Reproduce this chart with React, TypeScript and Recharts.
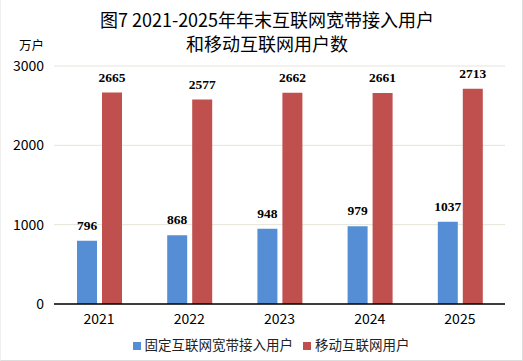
import React from 'react';
import {
    BarChart,
    Bar,
    CartesianGrid,
    LabelList,
    Legend,
    XAxis,
    YAxis,
} from 'recharts';

const years = ['2021', '2022', '2023', '2024', '2025'];
const broadband = [796, 868, 948, 979, 1037];
const mobile = [2665, 2577, 2662, 2661, 2713];
const yTicks = [0, 1000, 2000, 3000];

const data = years.map((year, i) => ({
    year,
    固定互联网宽带接入用户: broadband[i],
    移动互联网用户: mobile[i],
}));

const cjk = '"Noto Sans CJK SC", "Noto Sans", sans-serif';

const labelStyle = {
    fill: '#000',
    fontSize: 13.5,
    fontWeight: 'bold',
    fontFamily: '"Liberation Serif", serif',
};

const App = () => {
    return (
        <div
            style={{
                position: 'absolute',
                left: 0,
                top: 0,
                width: 523,
                height: 361,
                background: '#fff',
                boxSizing: 'border-box',
                borderRight: '1px solid #DCDCDC',
                borderBottom: '1px solid #DCDCDC',
                borderLeft: '1px solid #EEEEEE',
                fontFamily: cjk,
            }}
        >
            <div
                style={{
                    position: 'absolute',
                    left: 0,
                    width: 532,
                    top: 7,
                    textAlign: 'center',
                    fontSize: 18,
                    lineHeight: '24px',
                    color: '#000',
                }}
            >
                图7 2021-2025年年末互联网宽带接入用户
                <br />
                和移动互联网用户数
            </div>
            <div
                style={{
                    position: 'absolute',
                    left: 18,
                    top: 37,
                    fontSize: 12.5,
                    lineHeight: '16px',
                    color: '#000',
                }}
            >
                万户
            </div>

            <BarChart
                width={523}
                height={361}
                data={data}
                margin={{ top: 66, right: 19, bottom: 27, left: 0 }}
                barSize={20}
                barGap={5}
            >
                <CartesianGrid vertical={false} stroke="#E6E3D7" />

                <YAxis
                    width={53}
                    domain={[0, 3000]}
                    ticks={yTicks}
                    axisLine={false}
                    tickLine={false}
                    tickMargin={4}
                    tick={{ fill: '#000', fontSize: 14, fontFamily: cjk }}
                />

                <XAxis
                    dataKey="year"
                    height={30}
                    tickLine={false}
                    axisLine={{ stroke: '#000', strokeWidth: 1.5 }}
                    tickMargin={4}
                    tick={{ fill: '#000', fontSize: 14, fontFamily: cjk }}
                />

                <Legend
                    layout="horizontal"
                    verticalAlign="middle"
                    align="center"
                    iconType="square"
                    iconSize={8}
                    wrapperStyle={{ top: 334, left: 10, width: 530, fontSize: 13.5, fontFamily: cjk }}
                    formatter={(value) => <span style={{ color: '#222' }}>{value}</span>}
                />

                <Bar dataKey="固定互联网宽带接入用户" fill="#558ED5" isAnimationActive={false}>
                    <LabelList
                        dataKey="固定互联网宽带接入用户"
                        position="top"
                        offset={11}
                        style={labelStyle}
                    />
                </Bar>
                <Bar dataKey="移动互联网用户" fill="#C0504D" isAnimationActive={false}>
                    <LabelList
                        dataKey="移动互联网用户"
                        position="top"
                        offset={11}
                        style={labelStyle}
                    />
                </Bar>
            </BarChart>
        </div>
    );
};

export default App;
